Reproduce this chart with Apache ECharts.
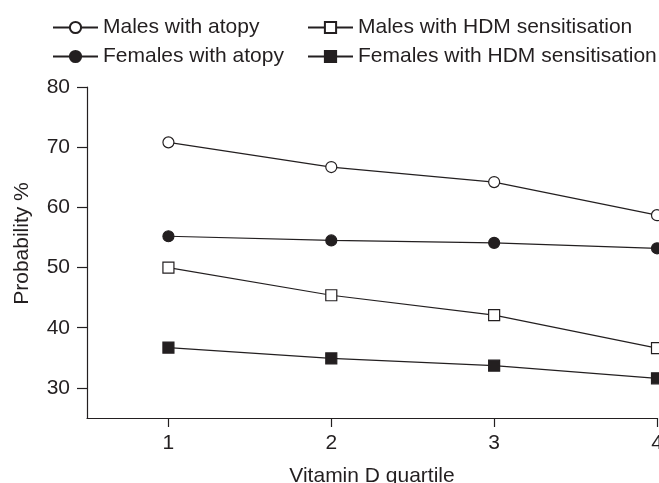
<!DOCTYPE html>
<html>
<head>
<meta charset="utf-8">
<script src="https://cdn.jsdelivr.net/npm/echarts@6/dist/echarts.min.js"></script>
<style>
  html, body { margin: 0; padding: 0; background: #fff; }
  #chart { width: 659px; height: 483px; }
</style>
</head>
<body>
<div id="chart"></div>
<script>
var quartiles = [1, 2, 3, 4];
var malesAtopy = [70.8, 66.7, 64.2, 58.7];
var femalesAtopy = [55.2, 54.5, 54.1, 53.2];
var malesHdm = [50.0, 45.4, 42.1, 36.6];
var femalesHdm = [36.7, 34.9, 33.7, 31.6];
var yTicks = [30, 40, 50, 60, 70, 80];

var ink = "#231f20";
var font = "Liberation Sans, Arial, sans-serif";

function pairs(vals) {
  return quartiles.map(function (q, i) { return [q, vals[i]]; });
}

function serie(name, vals, symbol, fill) {
  return {
    name: name,
    type: "line",
    data: pairs(vals),
    symbol: symbol,
    symbolSize: 11,
    showAllSymbol: true,
    clip: false,
    lineStyle: { color: ink, width: 1.2 },
    itemStyle: { color: fill, borderColor: ink, borderWidth: 1.2 },
    emphasis: { disabled: true }
  };
}

var legendBase = {
  orient: "vertical",
  top: 12,
  itemWidth: 45,
  itemHeight: 14,
  itemGap: 8,
  textStyle: { color: ink, fontSize: 21, fontFamily: font },
  selectedMode: false
};

var chart = echarts.init(document.getElementById("chart"));
chart.setOption({
  animation: false,
  backgroundColor: "#fff",
  legend: [
    Object.assign({}, legendBase, { left: 47, data: ["Males with atopy", "Females with atopy"] }),
    Object.assign({}, legendBase, { left: 302, data: ["Males with HDM sensitisation", "Females with HDM sensitisation"] })
  ],
  grid: { left: 87, top: 87, right: 2, bottom: 65, containLabel: false, outerBoundsMode: "none" },
  xAxis: {
    type: "value",
    min: 0.5,
    max: 4,
    name: "Vitamin D quartile",
    nameLocation: "middle",
    nameGap: 48,
    nameTextStyle: { color: ink, fontSize: 21, fontFamily: font },
    splitLine: { show: false },
    axisLine: { lineStyle: { color: ink, width: 1.2 } },
    axisTick: { show: true, length: 9, customValues: quartiles, lineStyle: { color: ink, width: 1.2 } },
    axisLabel: { customValues: quartiles, color: ink, fontSize: 21, fontFamily: font, margin: 15 }
  },
  yAxis: {
    type: "value",
    min: 25,
    max: 80,
    name: "Probability %",
    nameLocation: "middle",
    nameGap: 54,
    nameTextStyle: { color: ink, fontSize: 21, fontFamily: font, padding: [0, 0, 0, 18] },
    splitLine: { show: false },
    axisLine: { show: true, lineStyle: { color: ink, width: 1.2 } },
    axisTick: { show: true, length: 10, customValues: yTicks, lineStyle: { color: ink, width: 1.2 } },
    axisLabel: { customValues: yTicks, color: ink, fontSize: 21, fontFamily: font, margin: 17 }
  },
  series: [
    serie("Males with atopy", malesAtopy, "circle", "#fff"),
    serie("Females with atopy", femalesAtopy, "circle", ink),
    serie("Males with HDM sensitisation", malesHdm, "rect", "#fff"),
    serie("Females with HDM sensitisation", femalesHdm, "rect", ink)
  ]
});
</script>
</body>
</html>
